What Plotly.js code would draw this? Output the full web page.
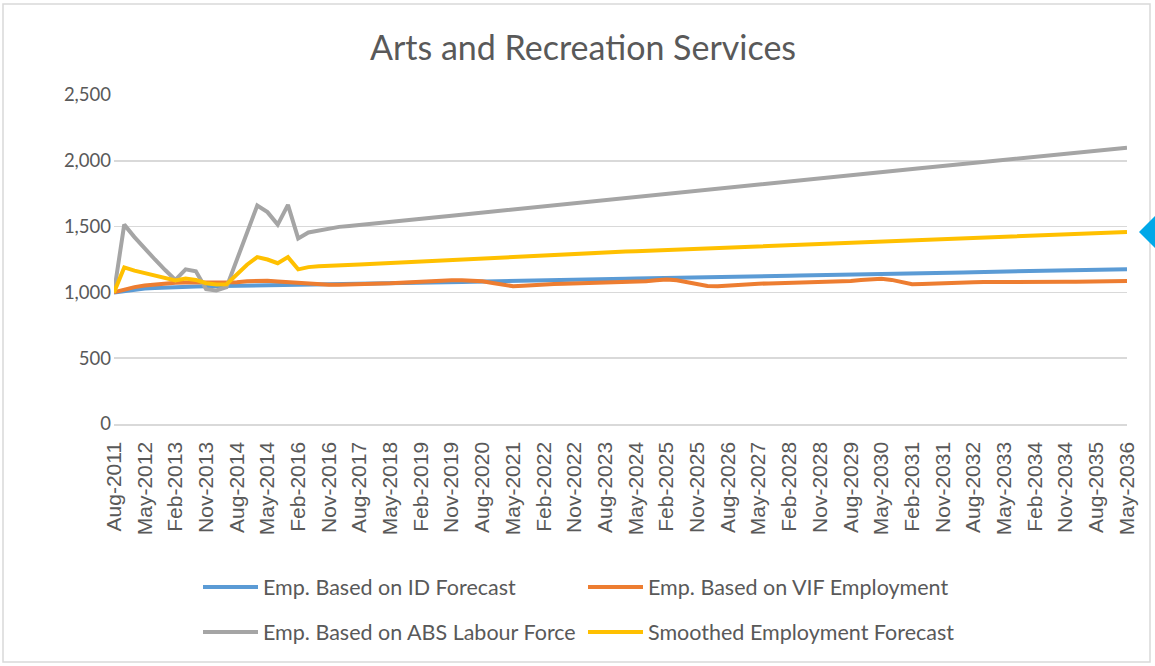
<!DOCTYPE html>
<html>
<head>
<meta charset="utf-8">
<script src="https://cdn.plot.ly/plotly-3.0.1.min.js"></script>
<style>
  html, body { margin: 0; padding: 0; background: #ffffff; }
  #chart { width: 1155px; height: 666px; }
</style>
</head>
<body>
<div id="chart"></div>
<script>
// Tick labels shown every third quarter (as printed on the reference axis)
const tickLabels = ["Aug-2011","May-2012","Feb-2013","Nov-2013","Aug-2014","May-2014","Feb-2016","Nov-2016",
  "Aug-2017","May-2018","Feb-2019","Nov-2019","Aug-2020","May-2021","Feb-2022","Nov-2022","Aug-2023",
  "May-2024","Feb-2025","Nov-2025","Aug-2026","May-2027","Feb-2028","Nov-2028","Aug-2029","May-2030",
  "Feb-2031","Nov-2031","Aug-2032","May-2033","Feb-2034","Nov-2034","Aug-2035","May-2036"];

const seriesNames = ["Emp. Based on ID Forecast","Emp. Based on VIF Employment",
  "Emp. Based on ABS Labour Force","Smoothed Employment Forecast"];

// Quarterly values, Aug-2011 .. May-2036 (100 quarters)
const idForecast = [1000,1012,1022,1029,1034,1038,1041,1043,1045,1046,1047,1048,1049,1050,1051,1052,1053,1054,1055,1057,
  1058,1060,1061,1063,1064,1066,1067,1069,1070,1072,1073,1075,1076,1078,1079,1081,1082,1084,1085,1087,
  1088,1090,1091,1093,1094,1096,1097,1099,1100,1102,1103,1105,1106,1108,1109,1111,1112,1114,1115,1117,
  1118,1120,1121,1123,1124,1126,1127,1129,1130,1132,1133,1135,1136,1138,1139,1141,1142,1144,1145,1147,
  1148,1150,1151,1152,1154,1155,1157,1158,1159,1161,1162,1164,1165,1166,1168,1169,1171,1172,1173,1175];

const vifEmployment = [1000,1022,1040,1052,1060,1068,1074,1076,1076,1074,1072,1072,1078,1085,1090,1088,1083,1078,1072,1066,
  1060,1058,1058,1059,1061,1063,1066,1069,1073,1078,1084,1090,1093,1093,1092,1090,1085,1072,1058,1047,
  1050,1056,1061,1064,1066,1068,1070,1072,1074,1076,1078,1081,1085,1092,1098,1092,1078,1062,1049,1046,
  1052,1058,1063,1066,1068,1070,1072,1074,1076,1078,1080,1083,1087,1094,1101,1104,1095,1076,1062,1064,
  1068,1072,1075,1077,1078,1079,1080,1080,1081,1081,1081,1081,1080,1080,1080,1080,1081,1082,1084,1086];

const absLabourForce = [1000,1515,1420,1330,1250,1170,1095,1175,1160,1025,1015,1040,1240,1450,1660,1610,1515,1665,1410,1455,
  1470,1490,1498,1505,1512,1520,1528,1535,1543,1551,1559,1567,1575,1583,1591,1599,1607,1614,1622,1630,
  1638,1646,1654,1662,1670,1678,1686,1694,1702,1709,1717,1725,1733,1741,1749,1757,1765,1773,1781,1788,
  1796,1804,1812,1820,1828,1836,1844,1852,1859,1867,1875,1883,1891,1899,1907,1914,1922,1930,1938,1946,
  1953,1961,1969,1977,1984,1992,2000,2008,2015,2023,2031,2039,2046,2054,2062,2069,2077,2085,2093,2100];

const smoothedForecast = [1000,1190,1165,1145,1125,1105,1090,1105,1095,1070,1060,1062,1140,1210,1268,1250,1222,1268,1175,1192,
  1198,1200,1204,1208,1212,1216,1220,1224,1228,1232,1236,1240,1244,1248,1252,1256,1260,1264,1270,1272,
  1274,1277,1280,1284,1288,1292,1296,1300,1304,1307,1310,1313,1316,1320,1324,1328,1331,1334,1336,1338,
  1340,1343,1346,1349,1352,1355,1358,1361,1364,1367,1370,1374,1378,1382,1386,1390,1393,1396,1398,1400,
  1402,1405,1408,1411,1414,1417,1420,1423,1426,1429,1432,1435,1438,1441,1444,1447,1450,1453,1456,1459];

const colors = ["#5B9BD5", "#ED7D31", "#A5A5A5", "#FFC000"];

const xIdx = idForecast.map((_, i) => i);
const tickVals = tickLabels.map((_, k) => k * 3);

const seriesData = [idForecast, vifEmployment, absLabourForce, smoothedForecast];
const legendOf = ["legend", "legend", "legend2", "legend2"];

const traces = seriesData.map((ys, s) => ({
  type: "scatter",
  mode: "lines",
  name: seriesNames[s],
  x: xIdx,
  y: ys,
  line: { color: colors[s], width: 4 },
  legend: legendOf[s],
  hoverinfo: "skip"
}));

// plot area in pixels: left 114, right 1127, top 95, bottom 424
const L = 114, R = 1127, T = 95, B = 424, W = 1155, H = 666;
const pw = R - L, ph = B - T;
const px = v => (v - L) / pw;
const py = v => (B - v) / ph;

const legendFont = { family: "Lato, 'Open Sans', sans-serif", size: 21.5, color: "#595959" };

const legendCommon = {
  orientation: "h",
  xanchor: "left",
  yanchor: "middle",
  font: legendFont,
  itemwidth: 55,
  entrywidth: 315,
  entrywidthmode: "pixels",
  bgcolor: "rgba(0,0,0,0)",
  itemclick: false, itemdoubleclick: false
};

const layout = {
  width: W, height: H,
  margin: { l: L, r: W - R, t: T, b: H - B, pad: 0 },
  paper_bgcolor: "#ffffff",
  plot_bgcolor: "#ffffff",
  showlegend: true,
  title: {
    text: "Arts and Recreation Services",
    font: { family: "Lato, 'Open Sans', sans-serif", size: 34, color: "#595959" },
    x: 583 / W, xanchor: "center", xref: "container",
    y: 1 - 48 / H, yanchor: "middle", yref: "container"
  },
  xaxis: {
    range: [0, xIdx.length - 1],
    tickmode: "array",
    tickvals: tickVals,
    ticktext: tickLabels,
    tickangle: -90,
    tickfont: { family: "'Liberation Sans', Arial, sans-serif", size: 21, color: "#595959" },
    showgrid: false,
    zeroline: false,
    showline: true,
    linecolor: "#D9D9D9",
    linewidth: 1.5,
    ticks: "",
    ticklabelstandoff: 8,
    automargin: false,
    fixedrange: true
  },
  yaxis: {
    range: [0, 2500],
    tickmode: "linear",
    tick0: 0,
    dtick: 500,
    tickformat: ",d",
    tickfont: { family: "Lato, 'Open Sans', sans-serif", size: 18.5, color: "#595959" },
    showgrid: true,
    gridcolor: "#D9D9D9",
    gridwidth: 1.5,
    zeroline: false,
    showline: false,
    ticks: "",
    ticklabelstandoff: 2,
    automargin: false,
    fixedrange: true
  },
  legend: Object.assign({}, legendCommon, { x: px(198), y: py(587) }),
  legend2: Object.assign({}, legendCommon, { x: px(198), y: py(632) }),
  shapes: [
    { type: "rect", xref: "paper", yref: "paper", layer: "below",
      x0: px(3), x1: px(1150), y0: py(662), y1: py(4),
      line: { color: "#D9D9D9", width: 1.5 }, fillcolor: "rgba(0,0,0,0)" },
    { type: "path", xref: "paper", yref: "paper", layer: "above",
      path: "M " + px(1139) + " " + py(232) + " L " + px(1156) + " " + py(215) +
            " L " + px(1156) + " " + py(249) + " Z",
      line: { width: 0 }, fillcolor: "#00A8E8" }
  ]
};

Plotly.newPlot("chart", traces, layout, { staticPlot: true, displayModeBar: false });
</script>
</body>
</html>
